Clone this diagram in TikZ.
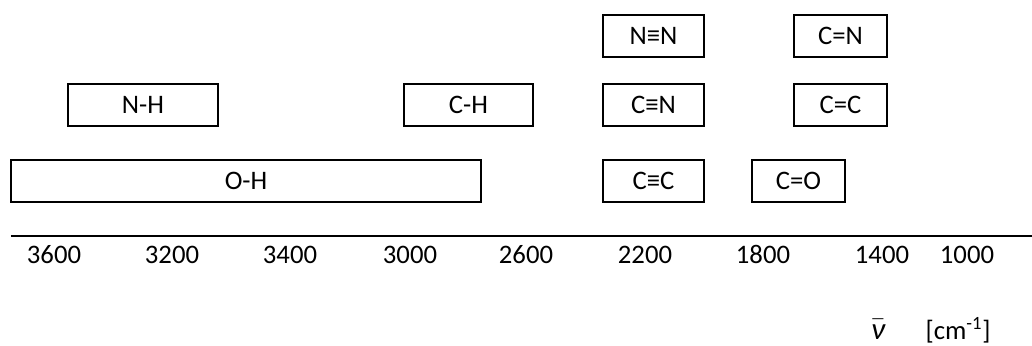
\documentclass[tikz,border=0pt]{standalone}
\usepackage{fontspec}
\usepackage{unicode-math}
\setmainfont{Carlito}
\begin{document}
\begin{tikzpicture}[
    every node/.style={font=\fontsize{19}{22}\selectfont},
    bandbox/.style={draw=black, line width=1.3pt, minimum height=1.05cm, inner sep=0pt},
    ticklabel/.style={anchor=base},
    line join=miter
]

\useasboundingbox (0,0) rectangle (25.8,8.625);

% ----------------------------------------------------
% Absorption bands
% ----------------------------------------------------
% top row
\node[bandbox, minimum width=2.525cm] (nn) at (16.3375,7.725) {N≡N};
\node[bandbox, minimum width=2.325cm] (cndbl) at (21.0125,7.725) {C=N};

% middle row
\node[bandbox, minimum width=3.75cm] (nh) at (3.575,6.0) {N-H};
\node[bandbox, minimum width=3.225cm] (ch) at (11.7125,6.0) {C-H};
\node[bandbox, minimum width=2.525cm] (cn) at (16.3375,6.0) {C≡N};
\node[bandbox, minimum width=2.325cm] (cc) at (21.0125,6.0) {C=C};

% bottom row
\node[bandbox, minimum width=11.75cm] (oh) at (6.15,4.1) {O-H};
\node[bandbox, minimum width=2.525cm] (ccsplit) at (16.3375,4.1) {C≡C};
\node[bandbox, minimum width=2.325cm] (co) at (19.9625,4.1) {C=O};

% ----------------------------------------------------
% Wavenumber axis
% ----------------------------------------------------
\coordinate (axisL) at (0.275,2.725);
\coordinate (axisR) at (25.8,2.725);
\draw[line width=1.4pt] (axisL) -- (axisR);

\node[ticklabel] (t3600) at (1.35,2.05) {3600};
\node[ticklabel] (t3200) at (4.3,2.05) {3200};
\node[ticklabel] (t3400) at (7.25,2.05) {3400};
\node[ticklabel] (t3000) at (10.25,2.05) {3000};
\node[ticklabel] (t2600) at (13.15,2.05) {2600};
\node[ticklabel] (t2200) at (16.125,2.05) {2200};
\node[ticklabel] (t1800) at (19.075,2.05) {1800};
\node[ticklabel] (t1400) at (22.05,2.05) {1400};
\node[ticklabel] (t1000) at (24.175,2.05) {1000};

% ----------------------------------------------------
% Unit label
% ----------------------------------------------------
\node[anchor=base, font=\fontsize{22}{24}\selectfont] (nubar) at (21.95,0.15) {$\bar{\mbox{\itshape ν}}$};
\node[anchor=base] (unit) at (23.95,0.15) {[cm\textsuperscript{-1}]};

\end{tikzpicture}
\end{document}
